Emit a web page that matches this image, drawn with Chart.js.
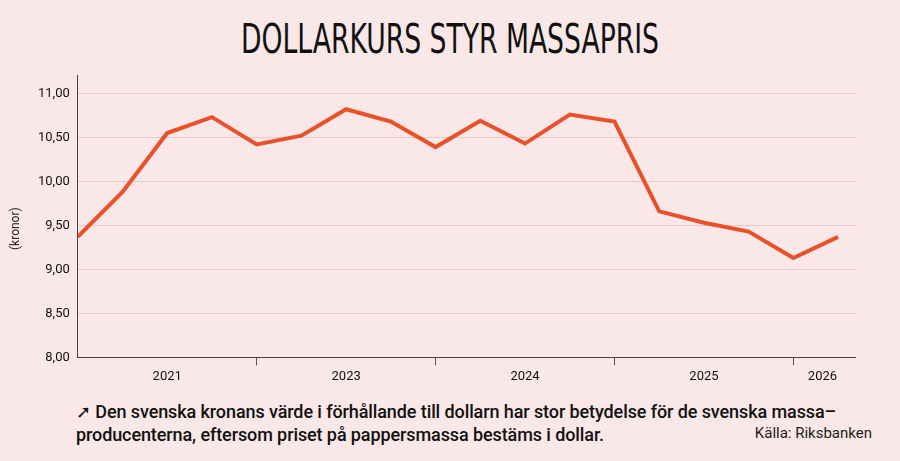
<!DOCTYPE html>
<html><head><meta charset="utf-8">
<script src="https://cdn.jsdelivr.net/npm/chart.js@4/dist/chart.umd.min.js"></script>
<style>
html,body{margin:0;padding:0;background:#f9e8e7;width:900px;height:461px;overflow:hidden;font-family:Roboto,"Noto Sans",sans-serif;}
#title{position:absolute;left:0;width:900px;top:16px;text-align:center;font-family:"Liberation Sans Narrow","DejaVu Sans Condensed",sans-serif;font-size:40px;color:#111;transform:scaleX(0.74);}
#wrap{position:absolute;left:0;top:60px;width:856px;height:329px;}
#cap{position:absolute;left:76px;top:400px;font-size:18px;font-weight:500;color:#111;line-height:23px;width:820px;letter-spacing:-0.1px;}
#src{position:absolute;right:28px;top:424px;font-size:15px;color:#222;}
#ylab{position:absolute;font-size:12px;color:#222;transform:rotate(-90deg);transform-origin:left top;}
</style></head><body>
<div id="title">DOLLARKURS STYR MASSAPRIS</div>
<div id="wrap"><canvas id="c"></canvas></div>
<div id="ylab" style="top:250px;left:8px">(kronor)</div>
<div id="cap">➚ Den svenska kronans värde i förhållande till dollarn har stor betydelse för de svenska massa–<br>producenterna, eftersom priset på pappersmassa bestäms i dollar.</div>
<div id="src">Källa: Riksbanken</div>
<script>
const values=[9.37,9.88,10.55,10.73,10.42,10.52,10.82,10.68,10.39,10.69,10.43,10.76,10.68,9.66,9.53,9.43,9.13,9.37];
const yearLabels=['2021','2023','2024','2025','2026'];
const yearPos=[2,6,10,14,16.65];
const tickMarks=[4,8,12,16];
const yTicks=[8,8.5,9,9.5,10,10.5,11];
new Chart(document.getElementById('c'),{
type:'line',
data:{datasets:[{data:values.map((v,i)=>({x:i,y:v})),borderColor:'#e9512a',borderWidth:4,pointRadius:0,tension:0,borderJoinStyle:'miter'}]},
options:{responsive:true,maintainAspectRatio:false,animation:false,
layout:{padding:{left:30,right:0,top:12,bottom:0}},
plugins:{legend:{display:false},tooltip:{enabled:false}},
scales:{
x:{type:'linear',min:0,max:17.4,
afterBuildTicks:a=>{a.ticks=[...yearPos,...tickMarks].sort((p,q)=>p-q).map(v=>({value:v}));},
ticks:{autoSkip:false,maxRotation:0,color:'#111',font:{size:13,family:'Roboto'},padding:4,
callback:v=>{const i=yearPos.indexOf(v);return i>=0?yearLabels[i]:'';}},
grid:{drawOnChartArea:false,tickLength:8,tickColor:c=>tickMarks.includes(c.tick&&c.tick.value)?'#555':'rgba(0,0,0,0)'},
border:{color:'#444',width:1}},
y:{min:8,max:11.2,
afterBuildTicks:a=>{a.ticks=yTicks.map(v=>({value:v}));},
ticks:{color:'#111',font:{size:13,family:'Roboto'},padding:8,callback:v=>v.toFixed(2).replace('.',',')},
grid:{color:'#e8c9c8',drawTicks:false},
border:{color:'#444',width:1}}
}}});
</script>
</body></html>
